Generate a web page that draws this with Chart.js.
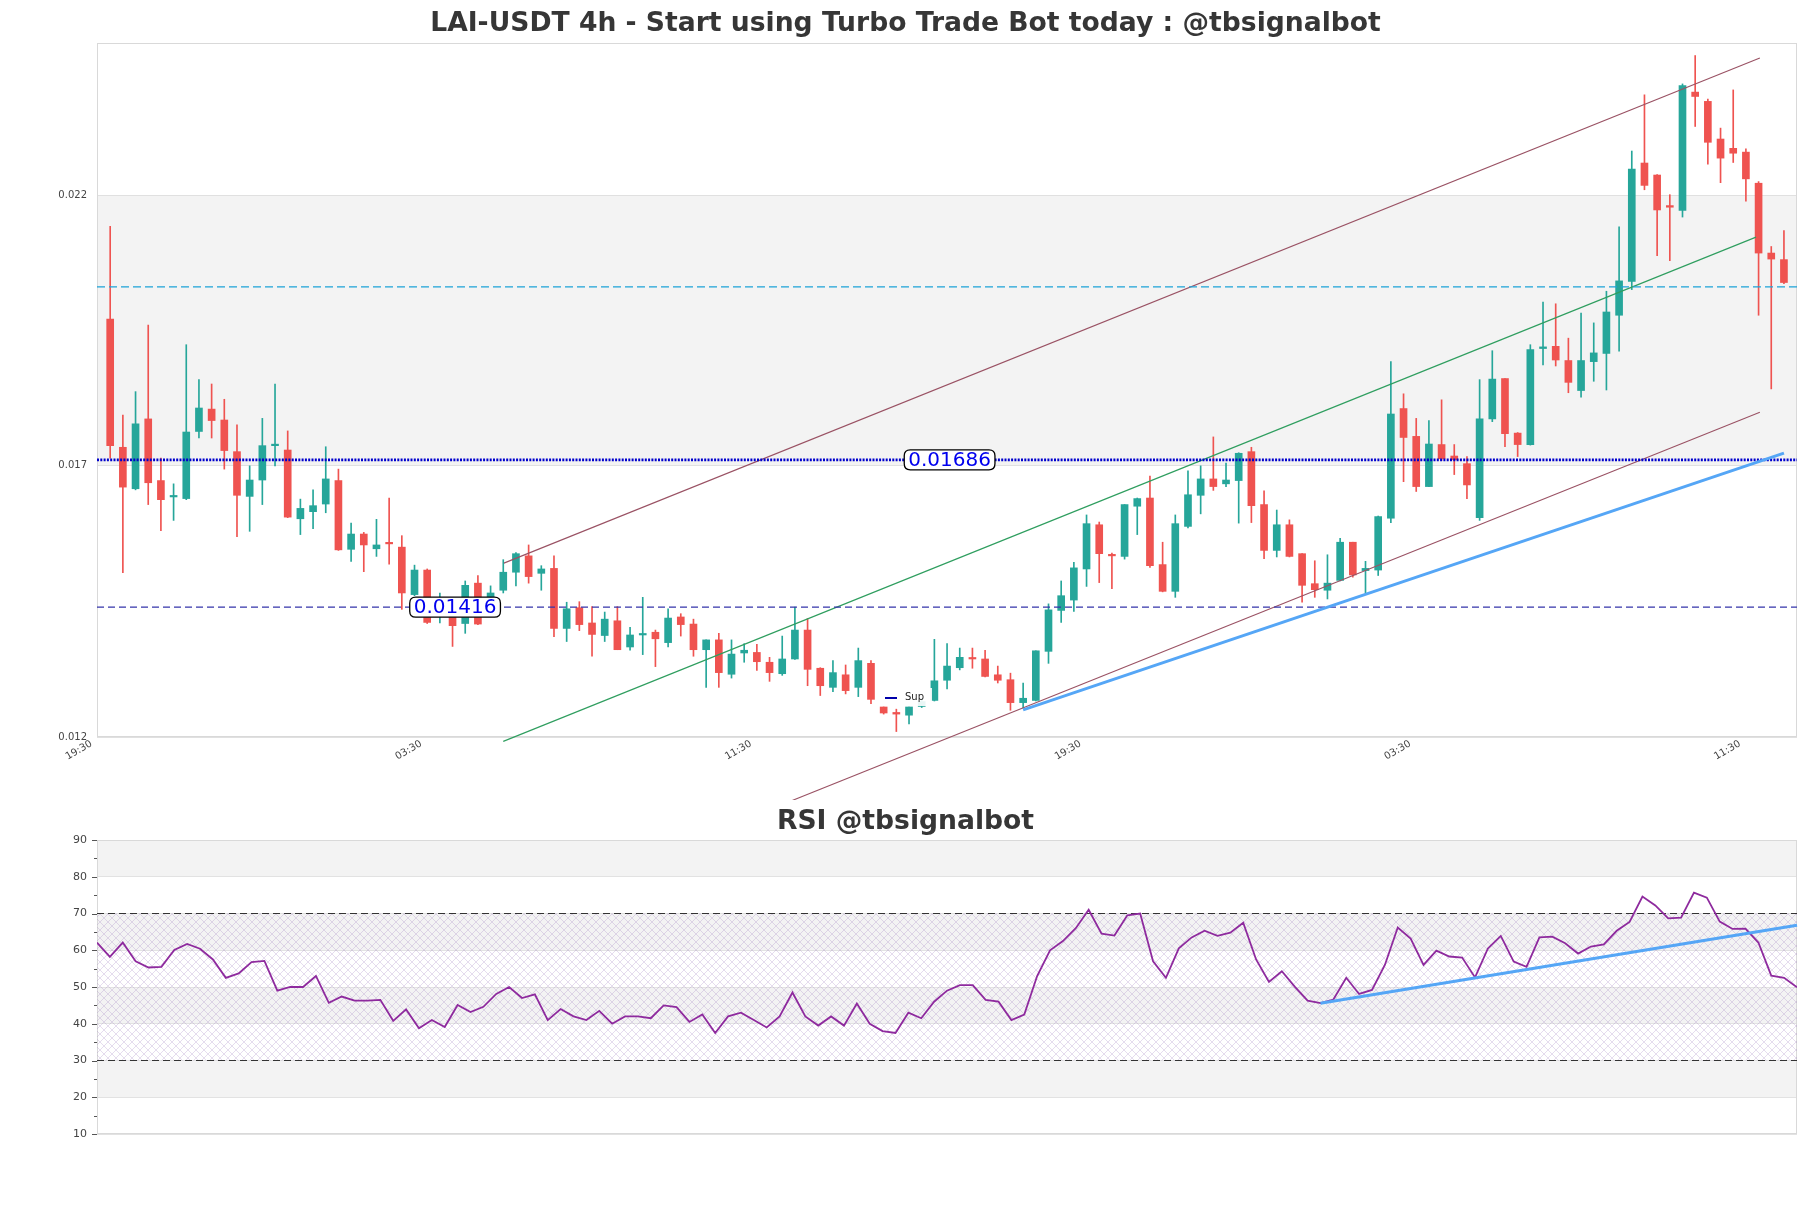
<!DOCTYPE html>
<html>
<head>
<meta charset="utf-8">
<title>LAI-USDT 4h</title>
<script src="https://cdn.jsdelivr.net/npm/chart.js@4.4.1/dist/chart.umd.min.js"></script>
<style>
  html, body { margin: 0; padding: 0; background: #fff; }
  #wrap { position: relative; width: 1811px; height: 1208px; }
  #priceChart { position: absolute; left: 0; top: 0; }
  #rsiChart { position: absolute; left: 0; top: 790px; }
</style>
</head>
<body>
<div id="wrap">
  <canvas id="priceChart" width="1811" height="800"></canvas>
  <canvas id="rsiChart" width="1811" height="418"></canvas>
</div>
<script>
// candle values, one per 4h bar (index 0..132)
const opens = [
  0.01944, 0.01709, 0.01633, 0.01761, 0.01648, 0.01618, 0.01615, 0.01738, 0.01779, 0.01759,
  0.01701, 0.01619, 0.01649, 0.01712, 0.01704, 0.01578, 0.01591, 0.01605, 0.01648, 0.01522,
  0.01550, 0.01523, 0.01534, 0.01526, 0.01439, 0.01484, 0.01400, 0.01405, 0.01386, 0.01460,
  0.01435, 0.01447, 0.01480, 0.01510, 0.01478, 0.01487, 0.01377, 0.01415, 0.01387, 0.01364,
  0.01391, 0.01343, 0.01365, 0.01370, 0.01351, 0.01398, 0.01385, 0.01338, 0.01356, 0.01293,
  0.01332, 0.01333, 0.01315, 0.01294, 0.01321, 0.01374, 0.01304, 0.01269, 0.01292, 0.01269,
  0.01313, 0.01233, 0.01223, 0.01218, 0.01234, 0.01245, 0.01282, 0.01305, 0.01323, 0.01321,
  0.01292, 0.01283, 0.01241, 0.01245, 0.01335, 0.01410, 0.01429, 0.01486, 0.01567, 0.01512,
  0.01509, 0.01601, 0.01616, 0.01494, 0.01445, 0.01564, 0.01621, 0.01651, 0.01642, 0.01648,
  0.01701, 0.01604, 0.01520, 0.01567, 0.01514, 0.01459, 0.01447, 0.01465, 0.01535, 0.01483,
  0.01484, 0.01579, 0.01780, 0.01729, 0.01637, 0.01714, 0.01693, 0.01679, 0.01580, 0.01761,
  0.01835, 0.01735, 0.01714, 0.01890, 0.01894, 0.01868, 0.01813, 0.01866, 0.01881, 0.01951,
  0.02013, 0.02230, 0.02208, 0.02152, 0.02143, 0.02360, 0.02343, 0.02274, 0.02257, 0.02250,
  0.02193, 0.02065, 0.02053
];
const highs = [
  0.02114, 0.01768, 0.01811, 0.01933, 0.01689, 0.01642, 0.01897, 0.01833, 0.01825, 0.01797,
  0.01750, 0.01675, 0.01762, 0.01825, 0.01739, 0.01614, 0.01631, 0.01710, 0.01669, 0.01570,
  0.01553, 0.01577, 0.01616, 0.01547, 0.01493, 0.01486, 0.01442, 0.01430, 0.01464, 0.01474,
  0.01455, 0.01503, 0.01516, 0.01530, 0.01492, 0.01510, 0.01425, 0.01426, 0.01417, 0.01407,
  0.01417, 0.01379, 0.01434, 0.01374, 0.01413, 0.01404, 0.01394, 0.01356, 0.01368, 0.01356,
  0.01349, 0.01348, 0.01324, 0.01363, 0.01416, 0.01395, 0.01305, 0.01318, 0.01310, 0.01341,
  0.01318, 0.01233, 0.01229, 0.01233, 0.01248, 0.01357, 0.01349, 0.01341, 0.01341, 0.01337,
  0.01308, 0.01295, 0.01277, 0.01336, 0.01422, 0.01464, 0.01498, 0.01585, 0.01572, 0.01515,
  0.01604, 0.01616, 0.01656, 0.01535, 0.01585, 0.01666, 0.01675, 0.01728, 0.01680, 0.01699,
  0.01709, 0.01629, 0.01594, 0.01576, 0.01514, 0.01501, 0.01512, 0.01542, 0.01535, 0.01500,
  0.01583, 0.01866, 0.01807, 0.01762, 0.01758, 0.01796, 0.01714, 0.01692, 0.01833, 0.01886,
  0.01835, 0.01736, 0.01897, 0.01975, 0.01972, 0.01909, 0.01955, 0.01937, 0.01995, 0.02113,
  0.02252, 0.02355, 0.02209, 0.02172, 0.02375, 0.02427, 0.02347, 0.02294, 0.02364, 0.02256,
  0.02196, 0.02077, 0.02106
];
const lows = [
  0.01689, 0.01479, 0.01631, 0.01604, 0.01556, 0.01575, 0.01613, 0.01726, 0.01726, 0.01669,
  0.01545, 0.01555, 0.01604, 0.01675, 0.01580, 0.01549, 0.01560, 0.01589, 0.01520, 0.01500,
  0.01481, 0.01509, 0.01495, 0.01412, 0.01437, 0.01386, 0.01387, 0.01344, 0.01368, 0.01384,
  0.01400, 0.01442, 0.01455, 0.01460, 0.01447, 0.01362, 0.01353, 0.01373, 0.01326, 0.01353,
  0.01338, 0.01337, 0.01329, 0.01307, 0.01343, 0.01363, 0.01326, 0.01269, 0.01269, 0.01286,
  0.01315, 0.01300, 0.01280, 0.01291, 0.01320, 0.01272, 0.01254, 0.01261, 0.01257, 0.01252,
  0.01239, 0.01220, 0.01188, 0.01202, 0.01232, 0.01244, 0.01266, 0.01301, 0.01304, 0.01288,
  0.01277, 0.01227, 0.01231, 0.01244, 0.01313, 0.01388, 0.01408, 0.01454, 0.01461, 0.01450,
  0.01504, 0.01549, 0.01489, 0.01444, 0.01434, 0.01561, 0.01587, 0.01630, 0.01637, 0.01570,
  0.01571, 0.01505, 0.01508, 0.01508, 0.01425, 0.01434, 0.01431, 0.01464, 0.01471, 0.01442,
  0.01474, 0.01571, 0.01646, 0.01628, 0.01637, 0.01685, 0.01659, 0.01615, 0.01575, 0.01756,
  0.01710, 0.01692, 0.01713, 0.01860, 0.01858, 0.01809, 0.01801, 0.01830, 0.01814, 0.01885,
  0.01998, 0.02181, 0.02060, 0.02051, 0.02131, 0.02297, 0.02228, 0.02194, 0.02231, 0.02160,
  0.01951, 0.01816, 0.02009
];
const closes = [
  0.01712, 0.01636, 0.01752, 0.01644, 0.01613, 0.01620, 0.01737, 0.01781, 0.01758, 0.01703,
  0.01621, 0.01649, 0.01712, 0.01714, 0.01581, 0.01597, 0.01602, 0.01651, 0.01521, 0.01550,
  0.01530, 0.01530, 0.01532, 0.01442, 0.01484, 0.01388, 0.01406, 0.01382, 0.01456, 0.01385,
  0.01442, 0.01480, 0.01514, 0.01472, 0.01486, 0.01377, 0.01413, 0.01384, 0.01366, 0.01394,
  0.01338, 0.01365, 0.01366, 0.01358, 0.01396, 0.01384, 0.01338, 0.01356, 0.01296, 0.01330,
  0.01337, 0.01316, 0.01296, 0.01321, 0.01374, 0.01302, 0.01272, 0.01296, 0.01263, 0.01318,
  0.01247, 0.01222, 0.01220, 0.01233, 0.01243, 0.01281, 0.01308, 0.01324, 0.01321, 0.01289,
  0.01282, 0.01241, 0.01249, 0.01336, 0.01411, 0.01437, 0.01488, 0.01569, 0.01514, 0.01510,
  0.01604, 0.01615, 0.01492, 0.01445, 0.01569, 0.01622, 0.01651, 0.01637, 0.01649, 0.01698,
  0.01602, 0.01520, 0.01567, 0.01509, 0.01456, 0.01448, 0.01460, 0.01535, 0.01475, 0.01487,
  0.01582, 0.01770, 0.01727, 0.01637, 0.01715, 0.01688, 0.01686, 0.01640, 0.01761, 0.01834,
  0.01734, 0.01714, 0.01888, 0.01893, 0.01869, 0.01828, 0.01868, 0.01882, 0.01957, 0.02014,
  0.02219, 0.02189, 0.02144, 0.02149, 0.02372, 0.02352, 0.02268, 0.02239, 0.02248, 0.02201,
  0.02065, 0.02054, 0.02011
];
const rsiValues = [
  62.1, 58.2, 62.1, 57.0, 55.3, 55.5, 60.1, 61.7, 60.4, 57.5,
  52.5, 53.7, 56.8, 57.1, 49.0, 50.0, 50.0, 53.0, 45.7, 47.4,
  46.3, 46.3, 46.5, 40.8, 43.9, 38.8, 41.0, 39.1, 45.1, 43.2,
  44.6, 48.1, 50.0, 47.0, 48.0, 41.0, 44.0, 42.0, 41.0, 43.5,
  40.0, 42.0, 42.0, 41.5, 45.0, 44.5, 40.5, 42.5, 37.5, 42.0,
  43.0, 41.0, 39.0, 42.0, 48.5, 42.0, 39.5, 42.0, 39.5, 45.5,
  40.0, 38.0, 37.5, 43.0, 41.5, 46.0, 49.0, 50.5, 50.5, 46.5,
  46.0, 41.0, 42.5, 53.0, 60.0, 62.5, 66.0, 71.0, 64.5, 64.0,
  69.5, 70.0, 57.0, 52.5, 60.5, 63.5, 65.3, 63.9, 64.8, 67.5,
  57.5, 51.4, 54.3, 50.1, 46.3, 45.6, 46.6, 52.5, 48.1, 49.2,
  56.0, 66.2, 63.2, 56.0, 59.9, 58.3, 58.0, 52.6, 60.5, 63.9,
  56.9, 55.5, 63.5, 63.7, 61.9, 59.1, 61.0, 61.6, 65.3, 67.7,
  74.6, 72.2, 68.7, 68.9, 75.7, 74.3, 67.8, 65.8, 65.9, 62.1,
  53.1, 52.5, 49.9
];

// axes
const xTickPos = [-1, 25, 51, 77, 103, 129];
const xTickLabels = ['19:30', '03:30', '11:30', '19:30', '03:30', '11:30'];
const priceTicks = [0.01178, 0.01675, 0.02170];
const priceTickLabels = ['0.012', '0.017', '0.022'];
const priceRange = [0.01178, 0.02450];
const xRange = [-1.04, 133.03];

// levels and channel lines [index, price]
const resistLevel = 0.01686;
const supportLevel = 0.01416;
const upperLevel = 0.02003;
const channelUpper = [[31.05, 0.014967], [130.1, 0.024223]];
const channelMid = [[31.0, 0.011700], [129.8, 0.020942]];
const channelLower = [[53.4, 0.010580], [130.1, 0.017734]];
const supLine = [[72, 0.012278], [132, 0.016983]];
const rsiTrend = [[95, 45.56], [132, 66.78]];

const UP = '#26a69a';
const DOWN = '#ef5350';
const FONT = '"DejaVu Sans", "Liberation Sans", sans-serif';

document.addEventListener('DOMContentLoaded', () => {
    drawPriceChart();
    drawRsiChart();
});

function pts(pairs) {
    return pairs.map(p => ({ x: p[0], y: p[1] }));
}

function hLine(value, color, width, dash) {
    return {
        type: 'line',
        data: [{ x: xRange[0], y: value }, { x: xRange[1], y: value }],
        borderColor: color, borderWidth: width, borderDash: dash,
        pointRadius: 0, fill: false, order: 0
    };
}

function segLine(pairs, color, width) {
    return {
        type: 'line', data: pts(pairs),
        borderColor: color, borderWidth: width,
        pointRadius: 0, fill: false, clip: false, order: 0
    };
}

// shaded bands between ticks, drawn before the grid
const bandPlugin = {
    id: 'bands',
    beforeDraw(chart, args, opts) {
        const { ctx, chartArea: a, scales: { y } } = chart;
        ctx.save();
        ctx.fillStyle = '#f3f3f3';
        opts.list.forEach(([lo, hi]) => {
            const top = y.getPixelForValue(hi);
            const bot = y.getPixelForValue(lo);
            ctx.fillRect(a.left, top, a.right - a.left, bot - top);
        });
        ctx.restore();
    }
};

// light frame around the plot area
const framePlugin = {
    id: 'frame',
    beforeDatasetsDraw(chart) {
        const { ctx, chartArea: a } = chart;
        ctx.save();
        ctx.strokeStyle = '#d9d9d9';
        ctx.lineWidth = 1;
        ctx.strokeRect(a.left + 0.5, a.top + 0.5, a.right - a.left - 1, a.bottom - a.top - 1);
        ctx.restore();
    }
};

const titlePlugin = {
    id: 'figTitle',
    afterDraw(chart, args, opts) {
        const ctx = chart.ctx;
        ctx.save();
        ctx.font = 'bold 26.6px ' + FONT;
        ctx.fillStyle = '#363636';
        ctx.textAlign = 'center';
        ctx.textBaseline = 'middle';
        ctx.fillText(opts.text, 905.5, opts.y);
        ctx.restore();
    }
};

// boxed price labels on the level lines + the small "Sup" legend
const levelLabelPlugin = {
    id: 'levelLabels',
    afterDatasetsDraw(chart, args, opts) {
        const { ctx, scales: { x, y } } = chart;
        ctx.save();
        ctx.font = '20px ' + FONT;
        opts.labels.forEach(l => {
            const cx = x.getPixelForValue(l.x);
            const cy = y.getPixelForValue(l.y);
            const w = ctx.measureText(l.text).width + 8;
            const h = 20;
            roundRect(ctx, cx - w / 2, cy - h / 2, w, h, 6);
            ctx.fillStyle = '#fff';
            ctx.fill();
            ctx.strokeStyle = '#000';
            ctx.lineWidth = 1.3;
            ctx.stroke();
            ctx.fillStyle = '#0000ee';
            ctx.textAlign = 'center';
            ctx.textBaseline = 'middle';
            ctx.fillText(l.text, cx, cy + 1);
        });

        // legend with its (borderless) white box
        ctx.fillStyle = 'rgba(255,255,255,0.9)';
        ctx.fillRect(880, 688, 52, 18);
        ctx.strokeStyle = '#0000aa';
        ctx.lineWidth = 2;
        ctx.beginPath();
        ctx.moveTo(885, 698);
        ctx.lineTo(897, 698);
        ctx.stroke();
        ctx.font = '10px ' + FONT;
        ctx.fillStyle = '#222';
        ctx.textAlign = 'left';
        ctx.textBaseline = 'middle';
        ctx.fillText('Sup', 905, 697);
        ctx.restore();
    }
};

function roundRect(ctx, x, y, w, h, r) {
    ctx.beginPath();
    ctx.moveTo(x + r, y);
    ctx.lineTo(x + w - r, y);
    ctx.quadraticCurveTo(x + w, y, x + w, y + r);
    ctx.lineTo(x + w, y + h - r);
    ctx.quadraticCurveTo(x + w, y + h, x + w - r, y + h);
    ctx.lineTo(x + r, y + h);
    ctx.quadraticCurveTo(x, y + h, x, y + h - r);
    ctx.lineTo(x, y + r);
    ctx.quadraticCurveTo(x, y, x + r, y);
    ctx.closePath();
}

/**
 * Candlestick panel
 */
function drawPriceChart() {
    const colors = closes.map((c, i) => (c >= opens[i] ? UP : DOWN));
    const bodies = opens.map((o, i) => ({ x: i, y: [o, closes[i]] }));
    const wicks = lows.map((l, i) => ({ x: i, y: [l, highs[i]] }));

    new Chart(document.getElementById('priceChart'), {
        type: 'bar',
        data: {
            datasets: [
                segLine(supLine, '#55a6f6', 3),
                hLine(resistLevel, '#0000cc', 2.6, [2, 1.3]),
                hLine(supportLevel, '#3535aa', 1.3, [7, 4]),
                hLine(upperLevel, '#1ca3d8', 1.3, [8, 4]),
                segLine(channelUpper, '#9a5264', 1.1),
                segLine(channelMid, '#2f9e5f', 1.1),
                segLine(channelLower, '#9a5264', 1.1),
                {
                    data: bodies, backgroundColor: colors, barThickness: 7,
                    minBarLength: 1.5, grouped: false, order: 2
                },
                {
                    data: wicks, backgroundColor: colors, barThickness: 1,
                    grouped: false, order: 3
                }
            ]
        },
        options: {
            responsive: false,
            animation: false,
            layout: { padding: { left: 0, top: 43, right: 14, bottom: 0 } },
            plugins: {
                legend: { display: false },
                tooltip: { enabled: false },
                bands: { list: [[priceTicks[1], priceTicks[2]]] },
                figTitle: { text: 'LAI-USDT 4h - Start using Turbo Trade Bot today : @tbsignalbot', y: 24 },
                levelLabels: {
                    labels: [
                        { x: 66.2, y: resistLevel, text: '0.01686' },
                        { x: 27.2, y: supportLevel, text: '0.01416' }
                    ]
                }
            },
            scales: {
                x: {
                    type: 'linear', min: xRange[0], max: xRange[1], offset: false,
                    grid: { display: false, offset: false },
                    border: { display: false },
                    afterBuildTicks: axis => { axis.ticks = xTickPos.map(v => ({ value: v })); },
                    afterFit: axis => { axis.height = 63; },
                    ticks: {
                        autoSkip: false, maxRotation: 30, minRotation: 30,
                        padding: -7, labelOffset: -6,
                        color: '#444', font: { family: FONT, size: 10 },
                        callback: (v, i) => xTickLabels[i]
                    }
                },
                y: {
                    type: 'linear', min: priceRange[0], max: priceRange[1],
                    grid: { color: '#e0e0e0', drawTicks: false },
                    border: { display: false },
                    afterBuildTicks: axis => { axis.ticks = priceTicks.map(v => ({ value: v })); },
                    afterFit: axis => { axis.width = 97; },
                    ticks: {
                        padding: 10, color: '#444', font: { family: FONT, size: 10 },
                        callback: (v, i) => priceTickLabels[i]
                    }
                }
            }
        },
        plugins: [bandPlugin, framePlugin, titlePlugin, levelLabelPlugin]
    });
}

function makeHatch(ctx) {
    const c = document.createElement('canvas');
    c.width = 8;
    c.height = 8;
    const g = c.getContext('2d');
    g.strokeStyle = 'rgba(165,135,195,0.42)';
    g.lineWidth = 0.7;
    g.beginPath();
    g.moveTo(0, 0); g.lineTo(8, 8);
    g.moveTo(8, 0); g.lineTo(0, 8);
    g.stroke();
    return ctx.createPattern(c, 'repeat');
}

// tick marks on the RSI axis: long at tens, short at fives
const rsiTickPlugin = {
    id: 'rsiTicks',
    afterDraw(chart) {
        const { ctx, chartArea: a, scales: { y } } = chart;
        ctx.save();
        ctx.strokeStyle = '#555';
        ctx.lineWidth = 1;
        for (let v = 10; v <= 90; v += 5) {
            const py = Math.round(y.getPixelForValue(v)) + 0.5;
            const len = v % 10 === 0 ? 5 : 3;
            ctx.beginPath();
            ctx.moveTo(a.left - len, py);
            ctx.lineTo(a.left, py);
            ctx.stroke();
        }
        ctx.restore();
    }
};

/**
 * RSI panel
 */
function drawRsiChart() {
    const canvas = document.getElementById('rsiChart');
    const hatch = makeHatch(canvas.getContext('2d'));
    const last = rsiValues.length - 1;

    new Chart(canvas, {
        type: 'line',
        data: {
            datasets: [
                segLine(rsiTrend, '#55a6f6', 3),
                {
                    data: rsiValues.map((v, i) => ({ x: i, y: v })),
                    borderColor: '#8e2a9e', borderWidth: 1.8,
                    pointRadius: 0, fill: false, order: 1
                },
                {
                    data: [{ x: 0, y: 70 }, { x: last, y: 70 }],
                    borderColor: '#333', borderWidth: 1.2, borderDash: [7, 4],
                    pointRadius: 0, fill: false, order: 2
                },
                {
                    data: [{ x: 0, y: 30 }, { x: last, y: 30 }],
                    borderColor: '#333', borderWidth: 1.2, borderDash: [7, 4],
                    pointRadius: 0, fill: false, order: 2
                },
                {
                    data: [{ x: 0, y: 70 }, { x: last, y: 70 }],
                    borderWidth: 0, pointRadius: 0,
                    fill: { value: 30 }, backgroundColor: hatch, order: 5
                }
            ]
        },
        options: {
            responsive: false,
            animation: false,
            layout: { padding: { left: 0, top: 50, right: 14, bottom: 74 } },
            plugins: {
                legend: { display: false },
                tooltip: { enabled: false },
                bands: { list: [[80, 90], [60, 70], [40, 50], [20, 30]] },
                figTitle: { text: 'RSI @tbsignalbot', y: 32 }
            },
            scales: {
                x: { type: 'linear', min: 0, max: last, display: false },
                y: {
                    type: 'linear', min: 10, max: 90,
                    grid: {
                        drawTicks: false,
                        color: c => (c.tick && c.tick.value % 10 === 0 ? '#e2e2e2' : 'rgba(0,0,0,0)')
                    },
                    border: { display: false },
                    afterFit: axis => { axis.width = 97; },
                    ticks: {
                        stepSize: 5, padding: 10, color: '#444',
                        font: { family: FONT, size: 11 },
                        callback: v => (v % 10 === 0 ? v : '')
                    }
                }
            }
        },
        plugins: [bandPlugin, framePlugin, titlePlugin, rsiTickPlugin]
    });
}
</script>
</body>
</html>
